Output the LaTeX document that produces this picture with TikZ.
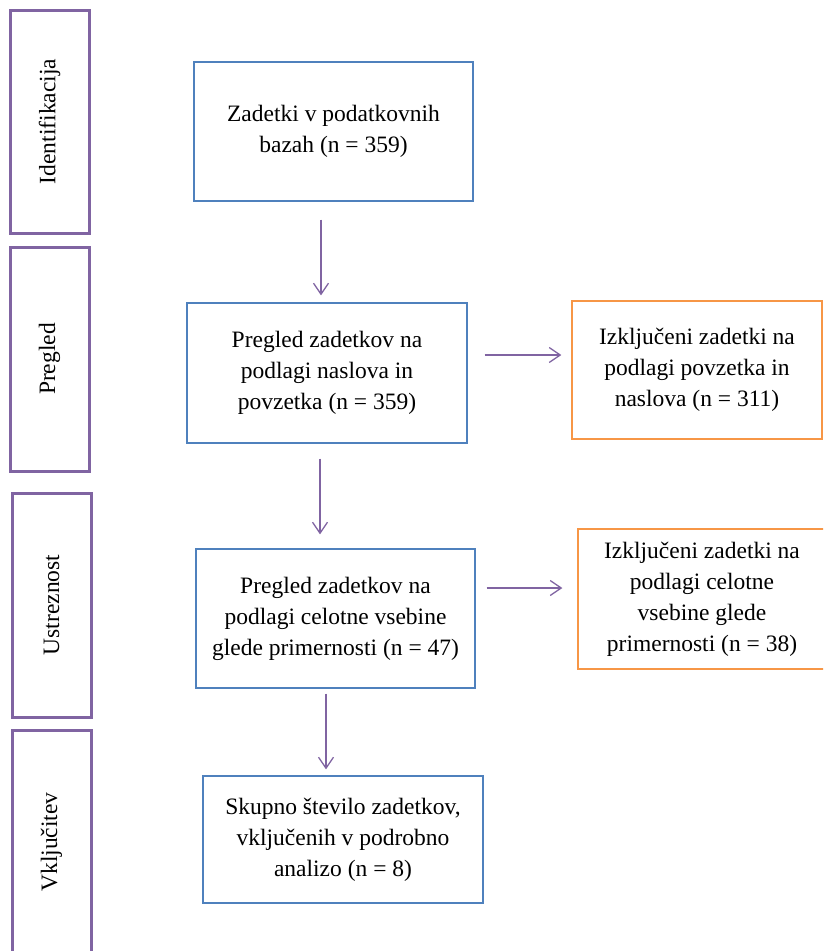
\documentclass[tikz,border=0pt]{standalone}
\usepackage{fontspec}
\setmainfont{Liberation Serif}
\usepackage{tikz}
\usetikzlibrary
  {
    arrows.meta,              % open arrow heads
    positioning,              % place nodes relative to other nodes
    calc,
  }

\definecolor{stagepurple}{HTML}{8064A2}
\definecolor{boxblue}{HTML}{4F81BD}
\definecolor{exorange}{HTML}{F79646}

\tikzset{
  sidebox/.style={draw=stagepurple, line width=3pt, rotate=90,
                  minimum height=79pt, inner sep=0},
  mainbox/.style={draw=boxblue, line width=1.3pt, align=center,
                  inner sep=0},
  exbox/.style={draw=exorange, line width=1.3pt, align=center,
                inner sep=0},
  arr/.style={draw=stagepurple, line width=1.3pt,
              -{Straight Barb[length=11pt,width=15pt,line width=1.3pt]}},
}

\begin{document}
\begin{tikzpicture}[x=1pt,y=-1pt,font=\fontsize{23.5}{31}\selectfont]
    \useasboundingbox (0,0) rectangle (823,951);
    \clip (0,0) rectangle (823,951);

    % stages on the left
    \node (ident) [sidebox, minimum width=223pt] at (49.5,121.5) {Identifikacija};
    \node (pregl) [sidebox, minimum width=224pt] at (49.5,359) {Pregled};
    \node (ustr)  [sidebox, minimum width=224pt] at (51.5,605) {Ustreznost};
    \node (vklj)  [sidebox, minimum width=224pt] at (51.5,842) {Vključitev};

    % main flow
    \node (b1) [mainbox, minimum width=279pt, minimum height=139pt] at (333.5,131.5)
      {Zadetki v podatkovnih\\bazah (n = 359)};
    \node (b2) [mainbox, minimum width=280pt, minimum height=140pt] at (327,373)
      {Pregled zadetkov na\\podlagi naslova in\\povzetka (n = 359)};
    \node (b3) [mainbox, minimum width=279pt, minimum height=139pt] at (335.5,618.5)
      {Pregled zadetkov na\\podlagi celotne vsebine\\glede primernosti (n = 47)};
    \node (b4) [mainbox, minimum width=280pt, minimum height=127pt] at (343,839.5)
      {Skupno število zadetkov,\\vključenih v podrobno\\analizo (n = 8)};

    % excluded
    \node (e1) [exbox, minimum width=250pt, minimum height=138pt] at (697,370)
      {Izključeni zadetki na\\podlagi povzetka in\\naslova (n = 311)};
    \node (e2) [exbox, minimum width=248pt, minimum height=140pt] at (702,599)
      {Izključeni zadetki na\\podlagi celotne\\vsebine glede\\primernosti (n = 38)};

    % arrows
    \coordinate (a1) at (321,0);
    \coordinate (a2) at (320,0);
    \coordinate (a3) at (326,0);
    \coordinate (h1) at (0,355);
    \coordinate (h2) at (0,588);
    \draw[arr, shorten <=18pt, shorten >=7pt] (b1.south -| a1) -- (b2.north -| a1);
    \draw[arr, shorten <=15pt, shorten >=14pt] (b2.south -| a2) -- (b3.north -| a2);
    \draw[arr, shorten <=5pt, shorten >=6pt] (b3.south -| a3) -- (b4.north -| a3);
    \draw[arr, shorten <=17pt, shorten >=10pt] (b2.east |- h1) -- (e1.west |- h1);
    \draw[arr, shorten <=11pt, shorten >=15pt] (b3.east |- h2) -- (e2.west |- h2);
\end{tikzpicture}
\end{document}
